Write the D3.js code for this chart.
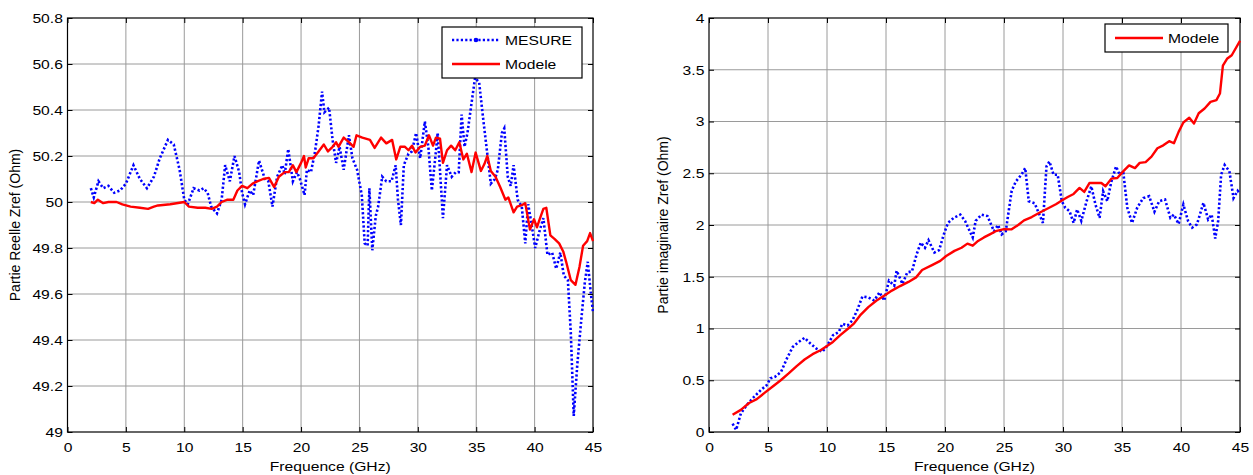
<!DOCTYPE html>
<html><head><meta charset="utf-8">
<script src="https://cdn.jsdelivr.net/npm/d3@7"></script>
<style>
body{margin:0;background:#fff;}
text{font-family:"Liberation Sans",Arial,sans-serif;fill:#000;}
</style></head>
<body><svg id="c" width="1253" height="475"></svg>
<script>
// ---------- DATA ----------
const xTicks = [0,5,10,15,20,25,30,35,40,45];
const yTicksRe = [49,49.2,49.4,49.6,49.8,50,50.2,50.4,50.6,50.8];
const yTicksIm = [0,0.5,1,1.5,2,2.5,3,3.5,4];

// Real part, measured (freq GHz, Ohm)
const reMesF = [2.0,2.25,2.65,3.06,3.5,4.0,4.5,5.0,5.65,6.2,6.8,7.4,7.9,8.6,9.1,9.6,10.0,10.3,10.8,11.3,11.65,12.0,12.3,12.8,13.2,13.5,13.9,14.3,14.7,14.95,15.2,15.6,15.9,16.4,16.9,17.2,17.55,17.95,18.4,18.6,18.9,19.3,19.65,19.9,20.3,20.5,20.85,21.2,21.5,21.8,22.0,22.4,22.7,23.0,23.3,23.65,24.1,24.4,24.8,25.2,25.45,25.7,25.85,26.1,26.4,26.6,26.95,27.3,27.75,28.1,28.3,28.55,28.8,29.2,29.5,29.85,30.2,30.6,30.9,31.2,31.55,31.7,32.15,32.5,32.9,33.25,33.5,33.75,34.0,34.25,34.6,34.9,35.25,35.6,35.9,36.25,36.6,36.85,37.2,37.4,37.7,37.95,38.2,38.55,38.9,39.2,39.45,39.75,40.05,40.4,40.75,41.1,41.5,41.85,42.2,42.5,42.85,43.1,43.35,43.65,44.0,44.3,44.55,44.8,45.0];
const reMesV = [50.06,50.02,50.09,50.06,50.07,50.04,50.05,50.08,50.16,50.10,50.06,50.11,50.19,50.27,50.25,50.14,50.01,49.99,50.06,50.05,50.06,50.04,49.98,49.95,50.01,50.16,50.09,50.20,50.13,50.04,49.99,50.05,50.03,50.18,50.10,50.09,49.98,50.11,50.16,50.12,50.23,50.09,50.13,50.10,50.03,50.14,50.13,50.22,50.33,50.48,50.39,50.41,50.27,50.17,50.24,50.14,50.29,50.19,50.14,50.03,49.82,49.81,50.06,49.79,49.94,49.98,50.11,50.09,50.09,50.16,50.01,49.90,50.16,50.21,50.22,50.30,50.19,50.35,50.24,50.05,50.22,50.30,49.93,50.16,50.11,50.13,50.13,50.38,50.24,50.30,50.43,50.54,50.52,50.36,50.23,50.08,50.10,50.14,50.30,50.32,50.11,50.07,50.16,50.01,49.98,49.82,49.99,49.90,49.80,49.87,49.93,49.77,49.78,49.71,49.78,49.68,49.66,49.43,49.07,49.29,49.49,49.65,49.74,49.61,49.52];

// Real part, model
const reModF = [2.0,2.3,2.6,3.06,3.5,4.2,4.7,5.4,6.2,6.9,7.4,7.75,8.8,10.0,10.4,11.15,11.8,12.35,12.8,13.2,13.7,14.2,14.55,14.95,15.4,15.85,16.25,16.75,17.25,17.7,18.1,18.6,18.95,19.3,19.6,20.0,20.25,20.4,20.65,21.05,21.5,21.95,22.3,22.7,23.0,23.2,23.65,24.1,24.5,24.75,25.25,25.9,26.3,26.85,27.3,27.8,28.15,28.5,28.9,29.2,29.5,29.8,30.2,30.6,30.95,31.3,31.55,31.9,32.15,32.5,32.85,33.2,33.55,33.9,34.2,34.6,34.95,35.4,35.7,35.95,36.25,36.65,37.05,37.5,37.75,38.2,38.5,38.85,39.2,39.6,39.95,40.2,40.4,40.75,41.0,41.35,41.7,42.1,42.45,42.7,43.1,43.5,43.85,44.15,44.5,44.75,45.0];
const reModV = [50.00,49.995,50.01,49.995,50.00,50.00,49.99,49.98,49.975,49.97,49.98,49.985,49.99,50.00,49.98,49.975,49.975,49.97,49.98,50.00,50.01,50.01,50.05,50.07,50.06,50.08,50.09,50.10,50.105,50.065,50.11,50.13,50.13,50.16,50.13,50.17,50.20,50.15,50.19,50.19,50.22,50.25,50.22,50.24,50.26,50.24,50.28,50.26,50.24,50.29,50.28,50.27,50.235,50.28,50.255,50.27,50.185,50.24,50.24,50.225,50.245,50.215,50.24,50.245,50.29,50.245,50.28,50.275,50.17,50.225,50.245,50.225,50.26,50.185,50.21,50.13,50.215,50.135,50.165,50.20,50.135,50.11,50.065,50.01,50.02,49.955,49.98,49.985,49.995,49.88,49.925,49.89,49.92,49.97,49.975,49.855,49.84,49.82,49.785,49.74,49.66,49.64,49.72,49.81,49.83,49.865,49.83];

// Imaginary part, measured
const imMesF = [2.0,2.3,2.7,3.2,3.7,4.4,4.9,5.2,5.6,6.1,6.6,7.1,7.6,8.1,8.6,9.1,9.6,10.0,10.5,11.0,11.3,11.75,12.15,12.55,13.0,13.5,14.0,14.45,14.85,15.25,15.7,15.9,16.4,16.8,17.2,17.6,17.95,18.3,18.6,19.1,19.5,19.9,20.25,20.75,21.3,21.7,22.1,22.35,22.6,23.1,23.6,24.15,24.5,24.8,25.15,25.65,26.0,26.5,26.8,27.1,27.6,28.0,28.3,28.6,28.85,29.2,29.55,29.9,30.2,30.55,30.9,31.2,31.55,32.0,32.4,32.75,33.1,33.4,33.75,34.1,34.5,34.8,35.1,35.45,35.85,36.3,36.8,37.3,37.75,38.15,38.65,39.1,39.4,39.8,40.2,40.6,40.95,41.35,41.9,42.3,42.6,42.9,43.15,43.4,43.7,44.1,44.45,44.8,45.0];
const imMesV = [0.08,0.02,0.18,0.26,0.326,0.406,0.454,0.518,0.534,0.58,0.71,0.822,0.87,0.91,0.854,0.806,0.774,0.83,0.934,0.966,1.046,1.03,1.078,1.174,1.31,1.30,1.27,1.35,1.27,1.462,1.414,1.558,1.43,1.542,1.552,1.718,1.83,1.78,1.853,1.734,1.757,1.91,2.02,2.07,2.10,2.04,1.94,1.88,2.04,2.10,2.086,1.94,2.0,1.91,1.94,2.33,2.42,2.49,2.55,2.23,2.21,2.10,2.02,2.566,2.614,2.486,2.486,2.23,2.166,2.134,2.02,2.15,2.04,2.23,2.374,2.198,2.07,2.326,2.23,2.42,2.566,2.486,2.518,2.166,2.02,2.17,2.26,2.278,2.128,2.23,2.246,2.07,2.10,2.01,2.198,2.038,1.974,2.006,2.214,2.054,2.10,1.87,2.04,2.486,2.58,2.52,2.26,2.33,2.30];

// Imaginary part, model
const imModF = [2.0,2.7,3.4,4.05,4.73,5.4,6.08,6.75,7.43,8.1,8.78,9.45,10.0,10.5,11.1,11.8,12.3,12.8,13.5,14.2,15.0,15.5,16.2,16.9,17.55,18.06,18.9,19.6,20.1,20.8,21.4,21.9,22.35,22.8,23.3,23.8,24.3,25.0,25.65,26.2,26.7,27.35,28.0,28.7,29.4,29.9,30.4,30.9,31.4,31.8,32.25,32.75,33.25,33.6,34.1,34.6,35.1,35.6,36.1,36.5,37.0,37.5,38.0,38.5,39.0,39.4,39.8,40.2,40.7,41.1,41.5,42.0,42.5,43.0,43.3,43.55,43.9,44.3,45.0];
const imModV = [0.166,0.214,0.28,0.317,0.38,0.44,0.50,0.566,0.637,0.70,0.752,0.79,0.83,0.87,0.934,1.0,1.05,1.126,1.206,1.27,1.328,1.366,1.41,1.45,1.494,1.565,1.613,1.654,1.70,1.75,1.78,1.82,1.80,1.846,1.88,1.91,1.94,1.96,1.958,2.0,2.045,2.077,2.118,2.16,2.20,2.237,2.27,2.30,2.358,2.32,2.406,2.406,2.406,2.374,2.448,2.454,2.518,2.576,2.55,2.6,2.608,2.66,2.742,2.77,2.81,2.79,2.90,2.99,3.037,2.98,3.08,3.126,3.19,3.206,3.27,3.54,3.606,3.64,3.78];

// ---------- DRAW ----------
const svg = d3.select("#c");
const FONT = 13.5;     // horizontal text size
const SX = 1.16;       // horizontal stretch of the reference rendering
const YFONT = 14;      // rotated axis titles

function hText(g, x, y, txt, anchor){
  return g.append("text").attr("transform",`translate(${x},${y}) scale(${SX},1)`)
    .attr("text-anchor",anchor||"start").attr("font-size",FONT).text(txt);
}

function panel(o){
  const g = svg.append("g");
  const x = d3.scaleLinear().domain([0,45]).range([o.x0,o.x1]);
  const y = d3.scaleLinear().domain(o.ydom).range([o.y1,o.y0]);
  // grid
  g.append("g").selectAll("line").data(o.xt.slice(1,-1)).join("line")
    .attr("x1",d=>x(d)).attr("x2",d=>x(d)).attr("y1",o.y0).attr("y2",o.y1)
    .attr("stroke","#9a9a9a").attr("stroke-width",1);
  g.append("g").selectAll("line").data(o.yt.slice(1,-1)).join("line")
    .attr("y1",d=>y(d)).attr("y2",d=>y(d)).attr("x1",o.x0).attr("x2",o.x1)
    .attr("stroke","#9a9a9a").attr("stroke-width",1);
  // axes
  const ax = g.append("g").attr("transform",`translate(0,${o.y1})`)
    .call(d3.axisBottom(x).tickValues(o.xt).tickFormat(d3.format("d")).tickSizeInner(-5).tickSizeOuter(0).tickPadding(10));
  const axT = g.append("g").attr("transform",`translate(0,${o.y0})`)
    .call(d3.axisTop(x).tickValues(o.xt).tickFormat("").tickSizeInner(-5).tickSizeOuter(0));
  const ay = g.append("g").attr("transform",`translate(${o.x0},0)`)
    .call(d3.axisLeft(y).tickValues(o.yt).tickFormat(o.yfmt).tickSizeInner(-5).tickSizeOuter(0).tickPadding(4));
  const ayR = g.append("g").attr("transform",`translate(${o.x1},0)`)
    .call(d3.axisRight(y).tickValues(o.yt).tickFormat("").tickSizeInner(-5).tickSizeOuter(0));
  [ax,axT,ay,ayR].forEach(a=>{a.select(".domain").remove();
    a.selectAll("text").attr("font-size",FONT).attr("font-family","Liberation Sans, Arial, sans-serif")
      .attr("fill","#000").attr("transform",`scale(${SX},1)`);
    a.selectAll("line").attr("stroke","#000");});
  // box
  g.append("rect").attr("x",o.x0).attr("y",o.y0).attr("width",o.x1-o.x0).attr("height",o.y1-o.y0)
    .attr("fill","none").attr("stroke","#000").attr("stroke-width",1.2);
  // series
  const clip = "clip"+o.id;
  svg.append("clipPath").attr("id",clip).append("rect").attr("x",o.x0).attr("y",o.y0-3).attr("width",o.x1-o.x0+1).attr("height",o.y1-o.y0+6);
  const line = d3.line().x(d=>x(d[0])).y(d=>y(d[1]));
  g.append("path").attr("clip-path",`url(#${clip})`).datum(d3.zip(o.mesF,o.mesV)).attr("d",line)
    .attr("fill","none").attr("stroke","#0000ff").attr("stroke-width",2.6).attr("stroke-dasharray","2.2,2.2");
  g.append("path").attr("clip-path",`url(#${clip})`).datum(d3.zip(o.modF,o.modV)).attr("d",line)
    .attr("fill","none").attr("stroke","#ff0000").attr("stroke-width",2.4).attr("stroke-linejoin","round");
  // labels
  hText(g,(o.x0+o.x1)/2,471,"Frequence (GHz)","middle");
  g.append("text").attr("transform",`translate(${o.ylx},${(o.y0+o.y1)/2}) rotate(-90)`).attr("text-anchor","middle").attr("font-size",YFONT).text(o.ylabel);
  // legend
  const L = o.leg;
  g.append("rect").attr("x",L.x).attr("y",L.y).attr("width",L.w).attr("height",L.h).attr("fill","#fff").attr("stroke","#000").attr("stroke-width",1.2);
  L.items.forEach((it,i)=>{
    const yy = L.y + L.r0 + i*24;
    g.append("line").attr("x1",L.x+10).attr("x2",L.x+58).attr("y1",yy).attr("y2",yy)
      .attr("stroke",it.c).attr("stroke-width",it.dash?2.6:2.4).attr("stroke-dasharray",it.dash?"2.2,2.2":null);
    if(it.dash) g.append("circle").attr("cx",L.x+34).attr("cy",yy).attr("r",2.3).attr("fill",it.c);
    hText(g,L.x+63,yy+5,it.t,"start");
  });
}

panel({id:"a",x0:67.5,x1:593,y0:18,y1:432,ydom:[49,50.8],xt:xTicks,yt:yTicksRe,
  yfmt:d=>d3.format("")(+d.toFixed(1)),mesF:reMesF,mesV:reMesV,modF:reModF,modV:reModV,
  ylx:20,ylabel:"Partie Reelle Zref (Ohm)",
  leg:{x:442,y:27,w:140,h:51,r0:13,items:[{t:"MESURE",c:"#0000ff",dash:true},{t:"Modele",c:"#ff0000"}]}});
panel({id:"b",x0:709,x1:1240,y0:18,y1:432,ydom:[0,4],xt:xTicks,yt:yTicksIm,
  yfmt:d=>d3.format("")(+d.toFixed(1)),mesF:imMesF,mesV:imMesV,modF:imModF,modV:imModV,
  ylx:668,ylabel:"Partie imaginaire Zref (Ohm)",
  leg:{x:1105,y:24,w:123,h:28,r0:14,items:[{t:"Modele",c:"#ff0000"}]}});
</script></body></html>
